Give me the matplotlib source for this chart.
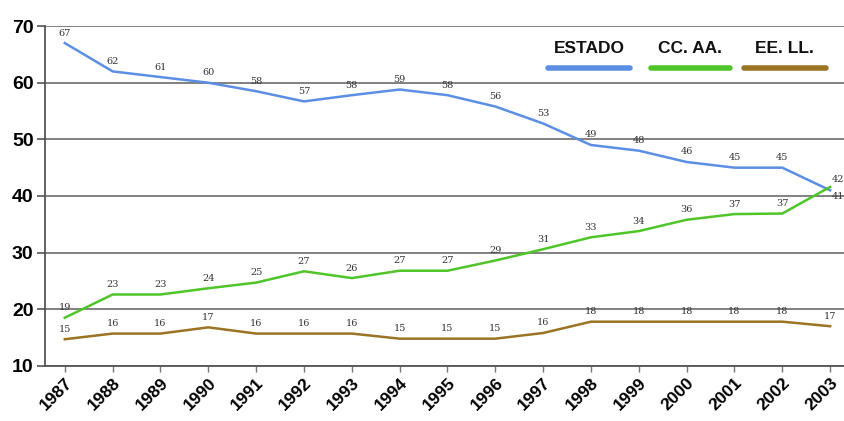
import matplotlib
matplotlib.use("Agg")
import matplotlib.pyplot as plt
from matplotlib.lines import Line2D

years = list(range(1987, 2004))
estado = [67, 62, 61, 60, 58.5, 56.7, 57.8, 58.8, 57.8, 55.8, 52.8, 49, 48, 46, 45, 45, 41]
ccaa = [18.5, 22.6, 22.6, 23.7, 24.7, 26.7, 25.5, 26.8, 26.8, 28.6, 30.6, 32.7, 33.8, 35.8, 36.8, 36.9, 41.6]
eell = [14.7, 15.7, 15.7, 16.8, 15.7, 15.7, 15.7, 14.8, 14.8, 14.8, 15.8, 17.8, 17.8, 17.8, 17.8, 17.8, 17]
estado_lbl = [67, 62, 61, 60, 58, 57, 58, 59, 58, 56, 53, 49, 48, 46, 45, 45, 41]
ccaa_lbl = [19, 23, 23, 24, 25, 27, 26, 27, 27, 29, 31, 33, 34, 36, 37, 37, 42]
eell_lbl = [15, 16, 16, 17, 16, 16, 16, 15, 15, 15, 16, 18, 18, 18, 18, 18, 17]
series_names = ["ESTADO", "CC. AA.", "EE. LL."]
colors = ["#5b8fe3", "#4fc52a", "#9a7424"]

fig = plt.figure(figsize=(8.44, 4.21), dpi=100)
ax = fig.add_axes([0.053, 0.131, 0.947, 0.807])

for si, (vals, lbls, c) in enumerate(zip([estado, ccaa, eell], [estado_lbl, ccaa_lbl, eell_lbl], colors)):
    ax.plot(years, vals, color=c, lw=1.8, zorder=3)
    n = len(years)
    for i, (x, v, l) in enumerate(zip(years, vals, lbls)):
        off, va, ha = (0, 4), "bottom", "center"
        if i == n - 1 and si == 0:
            off, va, ha = (1, -1), "top", "left"
        elif i == n - 1 and si == 1:
            off, va, ha = (1, 2), "bottom", "left"
        ax.annotate(str(l), (x, v), xytext=off, textcoords="offset points",
                    ha=ha, va=va, fontsize=7, color="#333333",
                    family="DejaVu Serif", zorder=4)

ax.set_xlim(1986.58, 2003.29)
ax.set_ylim(10, 70)
ax.set_yticks(range(10, 71, 10))
ax.set_xticks(years)
ax.set_xticklabels([str(y) for y in years], rotation=45, ha="right",
                   rotation_mode="anchor", fontsize=12.5, fontweight="bold",
                   family="Liberation Sans")
ax.tick_params(axis="y", labelsize=14, length=6, width=1.2, color="#555555", pad=2)
for t in ax.get_yticklabels():
    t.set_fontweight("bold")
    t.set_family("Liberation Sans")
ax.tick_params(axis="x", length=4, width=1, color="#777777", pad=3)
ax.grid(axis="y", color="#777777", lw=1.3)
ax.set_axisbelow(True)
for s in ["top", "right"]:
    ax.spines[s].set_visible(False)
for s in ["left", "bottom"]:
    ax.spines[s].set_color("#555555")
    ax.spines[s].set_linewidth(1.3)

# legend: bold names with thick colored bar underneath
leg_x = [(0.630, 0.732), (0.758, 0.857), (0.875, 0.977)]
for name, c, (x0, x1) in zip(series_names, colors, leg_x):
    ax.text((x0 + x1) / 2, 0.935, name, transform=ax.transAxes, ha="center", va="center",
            fontsize=12.5, fontweight="bold", color="#111111", family="Liberation Sans")
    ax.add_line(Line2D([x0, x1], [0.876, 0.876], transform=ax.transAxes,
                       color=c, lw=4, solid_capstyle="round", zorder=5))

fig.savefig("out.png", dpi=100)
